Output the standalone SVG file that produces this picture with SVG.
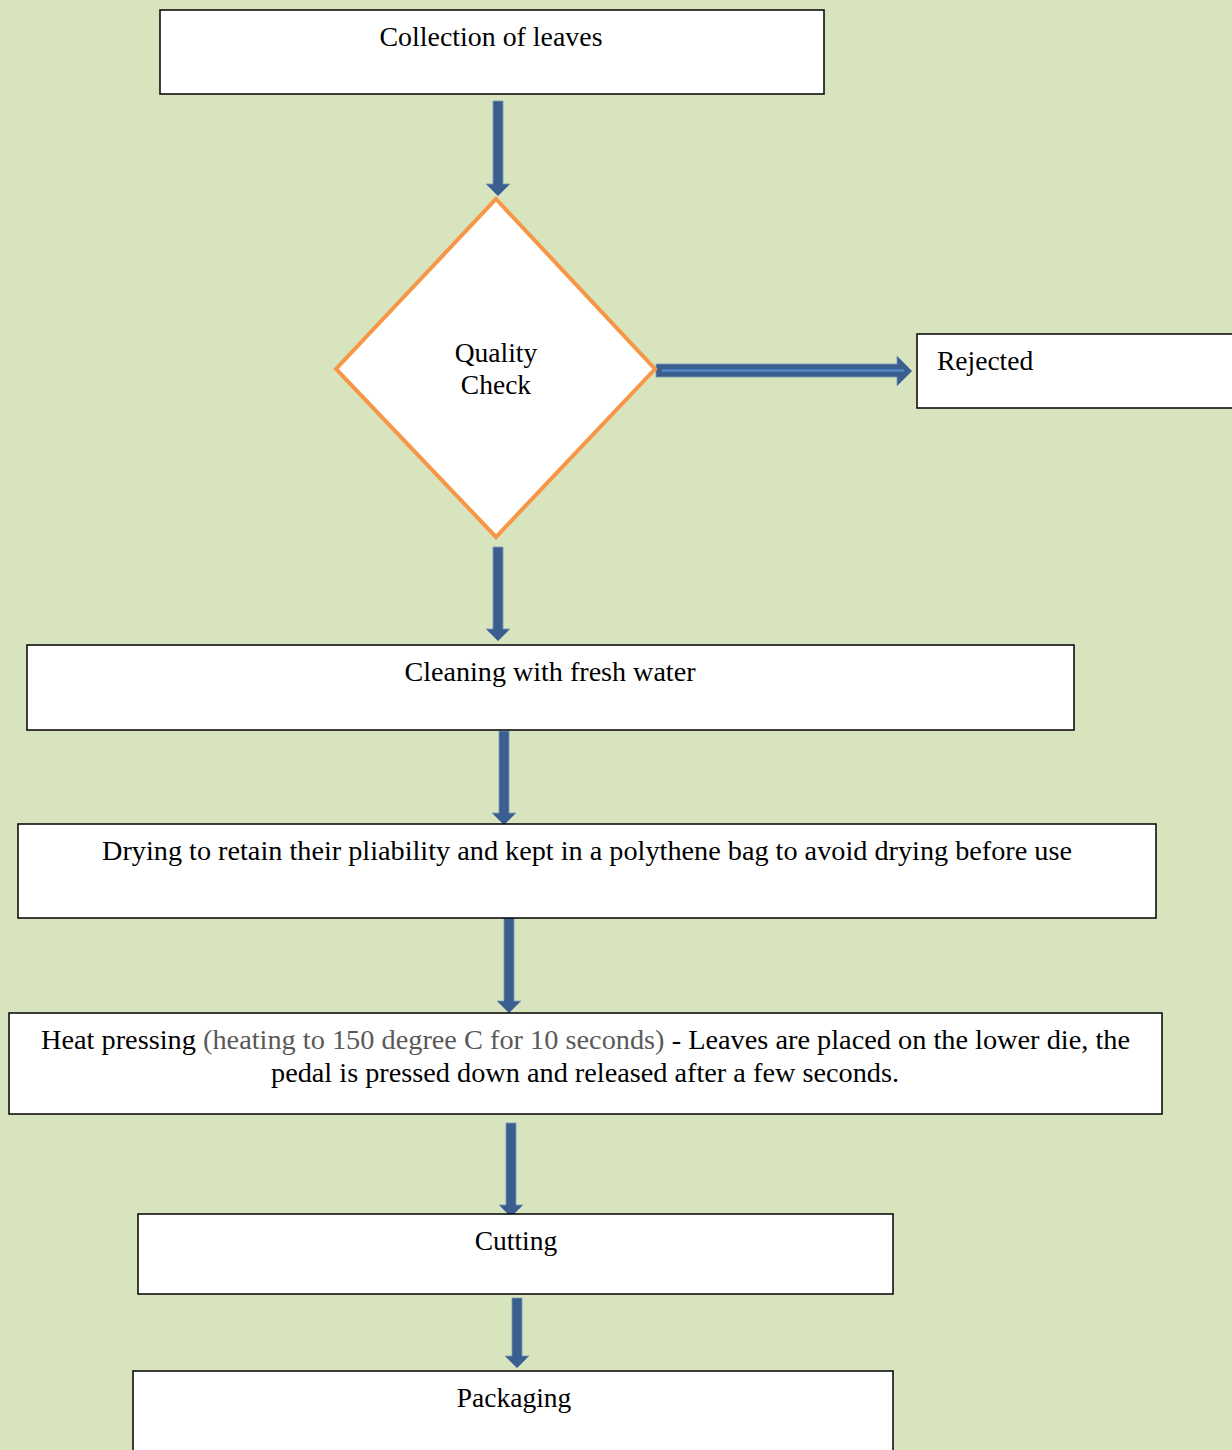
<svg xmlns="http://www.w3.org/2000/svg" width="1232" height="1450" viewBox="0 0 1232 1450">
<defs>
<style>
.box{fill:#fff;stroke:#000;stroke-width:1.5}
.dia{fill:#fff;stroke:#F79646;stroke-width:4;stroke-linejoin:miter}
text{font-family:"Liberation Serif","DejaVu Serif",serif;font-size:27.5px;fill:#000}
.c{text-anchor:middle}
.g{fill:#595959}
.arr{fill:#3A5F8F;stroke:#7C98B8;stroke-width:0.8}
</style>
</defs>
<rect width="1232" height="1450" fill="#D7E4BD"/>
<g id="connectors">
<path class="arr" d="M493,101 H503 V184 H510 L498,196 L486,184 H493 Z"/>
<path class="arr" d="M493,547 H503 V629 H510 L498,641 L486,629 H493 Z"/>
<path class="arr" d="M499,731 H509 V813 H516 L504,825 L492,813 H499 Z"/>
<path class="arr" d="M504,918 H514 V1001 H521 L509,1013 L497,1001 H504 Z"/>
<path class="arr" d="M506,1123 H516 V1205 H523 L511,1217 L499,1205 H506 Z"/>
<path class="arr" d="M512,1298 H522 V1356 H529 L517,1368 L505,1356 H512 Z"/>
<path class="arr" d="M656,364 H897 V356 L912,371 L897,386 V377 H656 Z"/>
<line x1="662" y1="370.5" x2="904" y2="370.5" stroke="#4F81BD" stroke-width="3"/>
</g>
<g id="n-collection">
<rect class="box" x="160" y="10" width="664" height="84"/>
<text class="c" x="491" y="46" textLength="223" lengthAdjust="spacingAndGlyphs">Collection of leaves</text>
</g>
<g id="n-quality">
<polygon class="dia" points="496,199 655,369 496,537 336,369"/>
<text class="c" x="496" y="362">Quality</text>
<text class="c" x="496" y="394">Check</text>
</g>
<g id="n-rejected">
<rect class="box" x="917" y="334" width="320" height="74"/>
<text x="937" y="370">Rejected</text>
</g>
<g id="n-cleaning">
<rect class="box" x="27" y="645" width="1047" height="85"/>
<text class="c" x="550" y="681" textLength="291" lengthAdjust="spacingAndGlyphs">Cleaning with fresh water</text>
</g>
<g id="n-drying">
<rect class="box" x="18" y="824" width="1138" height="94"/>
<text class="c" x="587" y="860" textLength="970" lengthAdjust="spacingAndGlyphs">Drying to retain their pliability and kept in a polythene bag to avoid drying before use</text>
</g>
<g id="n-heat">
<rect class="box" x="9" y="1013" width="1153" height="101"/>
<text x="41" y="1049" textLength="1089" lengthAdjust="spacingAndGlyphs">Heat pressing <tspan class="g">(heating to 150 degree C for 10 seconds)</tspan> - Leaves are placed on the lower die, the</text>
<text x="271" y="1082" textLength="628" lengthAdjust="spacingAndGlyphs">pedal is pressed down and released after a few seconds.</text>
</g>
<g id="n-cutting">
<rect class="box" x="138" y="1214" width="755" height="80"/>
<text class="c" x="516" y="1250">Cutting</text>
</g>
<g id="n-packaging">
<rect class="box" x="133" y="1371" width="760" height="90"/>
<text class="c" x="514" y="1407">Packaging</text>
</g>
</svg>
